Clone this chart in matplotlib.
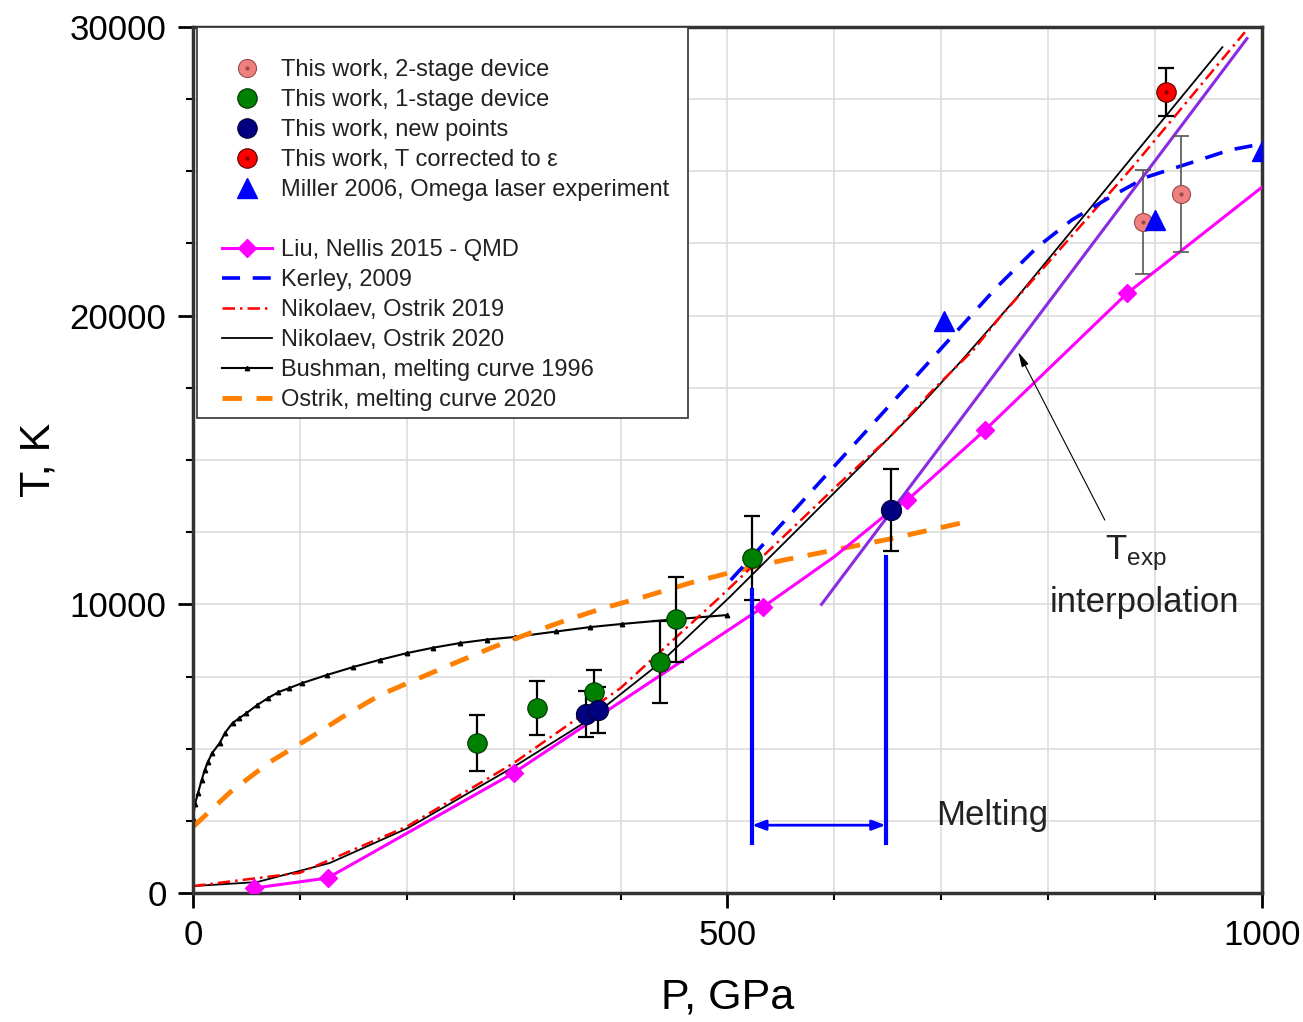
import matplotlib
matplotlib.use("Agg")
import matplotlib.pyplot as plt
from matplotlib.lines import Line2D
from matplotlib.patches import Rectangle
from matplotlib.ticker import MultipleLocator

plt.rcParams['font.family'] = ['Liberation Sans', 'DejaVu Sans']
plt.rcParams['mathtext.fontset'] = 'custom'
plt.rcParams['mathtext.rm'] = 'Liberation Sans'

# --- experimental points (P in GPa, T in K) ---
two_stage_P = [889, 924]
two_stage_T = [23240, 24210]
two_stage_err = [1800, 2000]

one_stage_P = [266, 322, 375, 437, 452, 523]
one_stage_T = [5200, 6410, 6960, 8000, 9490, 11600]
one_stage_err = [970, 950, 760, 1420, 1470, 1450]

new_P = [368, 379, 653]
new_T = [6200, 6340, 13270]
new_err = [800, 800, 1430]

corr_P = [910]
corr_T = [27745]
corr_err = [830]

miller_P = [703, 900, 1000]
miller_T = [19800, 23310, 25700]

# --- model curves ---
liu_P = [57, 126, 300, 533, 600, 653, 668, 741, 874, 1000]
liu_T = [170, 520, 4160, 9900, 11650, 13250, 13600, 16040, 20780, 24450]
liu_mark_P = [57, 126, 300, 533, 668, 741, 874]
liu_mark_T = [170, 520, 4160, 9900, 13600, 16040, 20780]

kerley_P = [503, 537, 565, 589, 617, 645, 674, 702, 730, 752, 790, 822, 858, 892, 933, 970, 1000]
kerley_T = [10840, 12220, 13360, 14340, 15480, 16620, 17800, 18950, 20090, 20990,
            22380, 23310, 24110, 24800, 25290, 25740, 25950]

nik2019_P = [0, 100, 200, 300, 400, 493, 552, 605, 652, 692, 730, 755, 879, 984]
nik2019_T = [240, 700, 2300, 4500, 7100, 10250, 12330, 14200, 15800, 17420, 18810, 19950, 25150, 29820]

nik2020_P = [0, 60, 128, 201, 300, 367, 437, 502, 568, 624, 674, 717, 771, 963]
nik2020_T = [240, 380, 1040, 2250, 4370, 5920, 7970, 10250, 12680, 14760, 16630, 18360, 20640, 29300]

bush_P = [0, 2, 4.7, 8, 11, 14, 18, 25, 30, 37, 43, 50, 60, 70, 80, 90, 102, 125, 150, 175,
          200, 225, 250, 275, 301, 340, 371, 401, 450, 500]
bush_T = [2600, 3100, 3460, 3900, 4260, 4550, 4850, 5200, 5550, 5890, 6050, 6230, 6510, 6750,
          6960, 7100, 7270, 7550, 7830, 8080, 8310, 8500, 8660, 8780, 8870, 9060, 9210, 9320,
          9480, 9630]

ostrik_P = [0, 35, 72, 106, 140, 175, 212, 247, 281, 315, 350, 384, 421, 465, 512, 552, 650, 719]
ostrik_T = [2290, 3500, 4540, 5300, 6100, 6860, 7450, 8000, 8520, 9000, 9460, 9870, 10250,
            10740, 11190, 11530, 12250, 12820]

texp_P = [588, 986]
texp_T = [10000, 29600]

# melting bracket
melt_P = [523, 648]
melt_top = [10500, 11640]
melt_bottom = 1730
melt_arrow_T = 2350

fig = plt.figure(figsize=(13.03, 10.22), dpi=100)
ax = fig.add_axes([0.1481, 0.1262, 0.8204, 0.8474])

# curves
ax.plot(bush_P, bush_T, color='black', lw=1.5, marker='^', ms=3.2, zorder=2)
ax.plot(ostrik_P, ostrik_T, color='#FF8000', lw=3.5, ls=(0, (4, 3)), zorder=2)
ax.plot(nik2020_P, nik2020_T, color='black', lw=1.3, zorder=2)
ax.plot(nik2019_P, nik2019_T, color='#FF0000', lw=1.8, ls=(0, (5, 2, 1, 2)), zorder=2)
ax.plot(kerley_P, kerley_T, color='#0000FF', lw=2.6, ls=(0, (5, 3.5)), zorder=2)
ax.plot(liu_P, liu_T, color='#FF00FF', lw=2.2, zorder=3)
ax.plot(liu_mark_P, liu_mark_T, ls='none', marker='D', ms=9, color='#FF00FF', zorder=3)
ax.plot(texp_P, texp_T, color='#8A2BE2', lw=2.2, zorder=3)

# error bars
ax.errorbar(two_stage_P, two_stage_T, yerr=two_stage_err, fmt='none', ecolor='#555555',
            elinewidth=1.2, capsize=6, capthick=1.2, zorder=4)
for P, T, e in [(one_stage_P, one_stage_T, one_stage_err), (new_P, new_T, new_err),
                (corr_P, corr_T, corr_err)]:
    ax.errorbar(P, T, yerr=e, fmt='none', ecolor='black', elinewidth=1.6, capsize=6,
                capthick=1.6, zorder=4)

# points
ax.plot(two_stage_P, two_stage_T, ls='none', marker='o', ms=13, mfc='#F08080', mec='#9A4A4A', mew=0.8, zorder=5)
ax.plot(two_stage_P, two_stage_T, ls='none', marker='o', ms=2, color='#9A4A4A', zorder=5)
ax.plot(one_stage_P, one_stage_T, ls='none', marker='o', ms=14, mfc='#008000', mec='#003300', mew=0.8, zorder=5)
ax.plot(new_P, new_T, ls='none', marker='o', ms=14.5, mfc='#000080', mec='#000033', mew=0.8, zorder=5)
ax.plot(corr_P, corr_T, ls='none', marker='o', ms=14, mfc='#FF0000', mec='#550000', mew=0.8, zorder=5)
ax.plot(corr_P, corr_T, ls='none', marker='o', ms=2, color='#880000', zorder=5)
ax.plot(miller_P, miller_T, ls='none', marker='^', ms=15, color='#0000FF', zorder=5)

# melting bracket
for p, top in zip(melt_P, melt_top):
    ax.plot([p, p], [melt_bottom, top], color='#0000FF', lw=3, zorder=6)
ax.annotate('', xy=(melt_P[0], melt_arrow_T), xytext=(melt_P[1], melt_arrow_T),
            arrowprops=dict(arrowstyle='<|-|>,head_length=0.8,head_width=0.3',
                            color='#0000FF', lw=2, shrinkA=0, shrinkB=0), zorder=6)
ax.text(748, 2700, 'Melting', fontsize=25, ha='center', va='center', color='#222222')

# T_exp annotation
ax.annotate('', xy=(772, 18740), xytext=(853, 12920),
            arrowprops=dict(arrowstyle='-|>,head_length=0.9,head_width=0.22',
                            color='black', lw=0.8, shrinkA=0, shrinkB=0))
ax.text(882, 11750, r'T$_\mathregular{exp}$', fontsize=25, ha='center', va='center', color='#222222')
ax.text(890, 10050, 'interpolation', fontsize=25, ha='center', va='center', color='#222222')

# axes
ax.set_xlim(0, 1000)
ax.set_ylim(0, 30000)
ax.xaxis.set_major_locator(MultipleLocator(500))
ax.xaxis.set_minor_locator(MultipleLocator(100))
ax.yaxis.set_major_locator(MultipleLocator(10000))
ax.yaxis.set_minor_locator(MultipleLocator(2500))
ax.grid(True, which='both', color='#dddddd', lw=1.2)
ax.set_axisbelow(True)
ax.tick_params(which='major', direction='out', length=11, width=2, labelsize=25, pad=8)
ax.tick_params(which='minor', direction='out', length=5, width=1.5)
for s in ax.spines.values():
    s.set_linewidth(2.5)
    s.set_color('#333333')
ax.set_xlabel('P, GPa', fontsize=31, labelpad=18)
ax.set_ylabel('T, K', fontsize=31, labelpad=8)

# legend: frame drawn separately so the padding matches the original box
ax.add_patch(Rectangle((0.0037, 0.5485), 0.4594, 0.4515, transform=ax.transAxes,
                       facecolor='white', edgecolor='#333333', lw=1.2, zorder=9))
blank = Line2D([], [], ls='none', marker='none')
handles = [
    (Line2D([], [], ls='none', marker='o', ms=13, mfc='#F08080', mec='#9A4A4A', mew=0.8),
     Line2D([], [], ls='none', marker='o', ms=2, color='#9A4A4A')),
    Line2D([], [], ls='none', marker='o', ms=14, mfc='#008000', mec='#003300', mew=0.8),
    Line2D([], [], ls='none', marker='o', ms=14, mfc='#000080', mec='#000033', mew=0.8),
    (Line2D([], [], ls='none', marker='o', ms=14, mfc='#FF0000', mec='#550000', mew=0.8),
     Line2D([], [], ls='none', marker='o', ms=2, color='#880000')),
    Line2D([], [], ls='none', marker='^', ms=15, color='#0000FF'),
    blank,
    Line2D([], [], color='#FF00FF', lw=2.2, marker='D', ms=9),
    Line2D([], [], color='#0000FF', lw=2.6, ls=(0, (5, 3.5))),
    Line2D([], [], color='#FF0000', lw=1.8, ls=(0, (5, 2, 1, 2))),
    Line2D([], [], color='black', lw=1.3),
    Line2D([], [], color='black', lw=1.5, marker='^', ms=3.2),
    Line2D([], [], color='#FF8000', lw=3.5, ls=(0, (4, 3))),
]
labels = ['This work, 2-stage device', 'This work, 1-stage device', 'This work, new points',
          'This work, T corrected to ε', 'Miller 2006, Omega laser experiment', ' ',
          'Liu, Nellis 2015 - QMD', 'Kerley, 2009', 'Nikolaev, Ostrik 2019',
          'Nikolaev, Ostrik 2020', 'Bushman, melting curve 1996', 'Ostrik, melting curve 2020']
leg = ax.legend(handles, labels, loc='upper left', bbox_to_anchor=(0.0271, 0.9631),
                borderaxespad=0, fontsize=17, handlelength=2.1, handletextpad=0.42,
                labelspacing=0.34, borderpad=0, frameon=False)
leg.set_zorder(10)
for t in leg.get_texts():
    t.set_color('#222222')

fig.savefig('out.png', dpi=100)
